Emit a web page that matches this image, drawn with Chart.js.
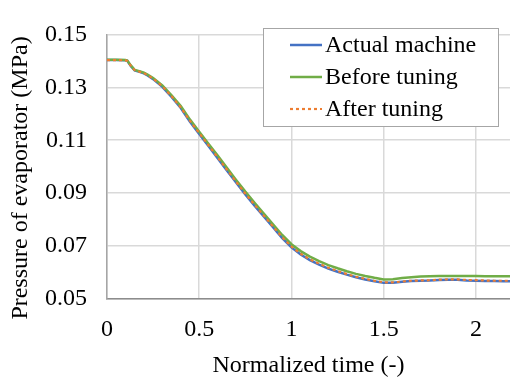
<!DOCTYPE html>
<html><head><meta charset="utf-8">
<script src="https://cdn.jsdelivr.net/npm/chart.js@4.4.0/dist/chart.umd.min.js"></script>
<style>html,body{margin:0;padding:0;background:#fff;}#wrap{width:510px;height:379px;}</style>
</head><body><div id="wrap"><canvas id="c" width="510" height="379"></canvas></div>
<script>
const times = [0,0.05,0.1,0.11,0.13,0.15,0.18,0.2,0.22,0.25,0.3,0.35,0.4,0.45,0.5,0.55,0.6,0.65,0.7,0.75,0.8,0.85,0.9,0.95,1.0,1.05,1.1,1.15,1.2,1.25,1.3,1.35,1.4,1.45,1.5,1.55,1.6,1.65,1.7,1.75,1.8,1.85,1.9,1.95,2.0,2.05,2.1,2.15,2.2];
const actualMachine = [0.1403,0.1403,0.1402,0.1400,0.1380,0.1364,0.1358,0.1353,0.1345,0.1331,0.1302,0.1264,0.1222,0.1170,0.1124,0.1078,0.1032,0.0986,0.0940,0.0895,0.0853,0.0812,0.0771,0.0730,0.0695,0.0668,0.0647,0.0630,0.0615,0.0603,0.0592,0.0582,0.0574,0.0567,0.0561,0.0561,0.0565,0.0568,0.0569,0.0570,0.0572,0.0573,0.0573,0.0570,0.0569,0.0568,0.0568,0.0567,0.0567];
const beforeTuning = [0.1404,0.1404,0.1403,0.1401,0.1382,0.1366,0.1360,0.1355,0.1348,0.1335,0.1307,0.1270,0.1229,0.1178,0.1132,0.1087,0.1042,0.0996,0.0950,0.0906,0.0864,0.0823,0.0782,0.0742,0.0707,0.0681,0.0660,0.0643,0.0628,0.0616,0.0605,0.0595,0.0587,0.0580,0.0574,0.0575,0.0579,0.0582,0.0585,0.0586,0.0587,0.0587,0.0587,0.0587,0.0587,0.0586,0.0586,0.0586,0.0586];
const afterTuning = [0.1403,0.1403,0.1402,0.1400,0.1381,0.1365,0.1358,0.1354,0.1346,0.1333,0.1304,0.1266,0.1224,0.1173,0.1127,0.1081,0.1035,0.0989,0.0943,0.0898,0.0856,0.0815,0.0774,0.0733,0.0698,0.0671,0.0650,0.0633,0.0618,0.0606,0.0594,0.0584,0.0576,0.0569,0.0563,0.0563,0.0566,0.0569,0.0570,0.0571,0.0573,0.0574,0.0574,0.0572,0.0571,0.0570,0.0569,0.0569,0.0569];
const seriesNames = ['Actual machine','Before tuning','After tuning'];
const xTickValues = [0,0.5,1,1.5,2];
const xTickLabels = ['0','0.5','1','1.5','2'];
const yTickValues = [0.05,0.07,0.09,0.11,0.13,0.15];
const yTickLabels = ['0.05','0.07','0.09','0.11','0.13','0.15'];
const xTitle = 'Normalized time (-)';
const yTitle = 'Pressure of evaporator (MPa)';

const FONT = '"Liberation Serif", "Times New Roman", serif';
const toXY = arr => times.map((t,i)=>({x:t,y:arr[i]}));

const legendPlugin = {
  id:'boxLegend',
  afterDraw(chart){
    const ctx = chart.ctx;
    ctx.save();
    const bx=263.5, by=28.5, bw=235, bh=98;
    ctx.fillStyle='#fff';
    ctx.fillRect(bx,by,bw,bh);
    ctx.strokeStyle='#a6a6a6';
    ctx.lineWidth=1;
    ctx.strokeRect(bx,by,bw,bh);
    chart.data.datasets.forEach((ds,i)=>{
      const y = 45 + i*32;
      ctx.beginPath();
      ctx.strokeStyle = ds.borderColor;
      ctx.lineWidth = ds.borderWidth;
      ctx.setLineDash(ds.borderDash || []);
      ctx.moveTo(290,y); ctx.lineTo(322,y);
      ctx.stroke();
      ctx.setLineDash([]);
      ctx.fillStyle='#000';
      ctx.font = '24px ' + FONT;
      ctx.textBaseline='middle';
      ctx.textAlign='left';
      ctx.fillText(ds.label, 325, y+1);
    });
    ctx.translate(21,178);
    ctx.rotate(-Math.PI/2);
    ctx.font = '24px ' + FONT;
    ctx.fillStyle='#000';
    ctx.textAlign='center';
    ctx.textBaseline='middle';
    ctx.fillText(yTitle,0,0);
    ctx.restore();
  }
};

new Chart(document.getElementById('c'), {
  type:'line',
  data:{
    datasets:[
      {label:seriesNames[0], data:toXY(actualMachine), borderColor:'#4472C4', borderWidth:2.5, pointRadius:0, tension:0, order:3},
      {label:seriesNames[1], data:toXY(beforeTuning), borderColor:'#70AD47', borderWidth:2.5, pointRadius:0, tension:0, order:2},
      {label:seriesNames[2], data:toXY(afterTuning), borderColor:'#ED7D31', borderWidth:2.2, borderDash:[3,3], pointRadius:0, tension:0, order:1}
    ]
  },
  options:{
    responsive:false, animation:false,
    layout:{padding:{top:16,right:0,left:0,bottom:0}},
    plugins:{legend:{display:false}, tooltip:{enabled:false}},
    scales:{
      x:{type:'linear', min:0, max:2.185,
        ticks:{font:{family:FONT,size:24}, color:'#000', padding:16, maxRotation:0, autoSkip:false,
          callback:(v)=>{const i=xTickValues.indexOf(v); return i>=0?xTickLabels[i]:'';}},
        afterBuildTicks(s){ s.ticks = xTickValues.map(v=>({value:v})); },
        grid:{color:'#d9d9d9', lineWidth:1.5, drawTicks:false},
        border:{color:'#8c8c8c', width:1.5},
        title:{display:true, text:xTitle, font:{family:FONT,size:24,lineHeight:1.1}, color:'#000', padding:{top:0,bottom:0}},
        afterFit(s){ s.height = 80; }
      },
      y:{min:0.05, max:0.15,
        ticks:{font:{family:FONT,size:24}, color:'#000', padding:20,
          callback:(v)=>{const i=yTickValues.findIndex(t=>Math.abs(t-v)<1e-9); return i>=0?yTickLabels[i]:'';}},
        afterBuildTicks(s){ s.ticks = yTickValues.map(v=>({value:v})); },
        grid:{color:'#d9d9d9', lineWidth:1.5, drawTicks:false},
        border:{color:'#a6a6a6', width:1.5},
        afterFit(s){ s.width = 107; }
      }
    }
  },
  plugins:[legendPlugin]
});
</script></body></html>
